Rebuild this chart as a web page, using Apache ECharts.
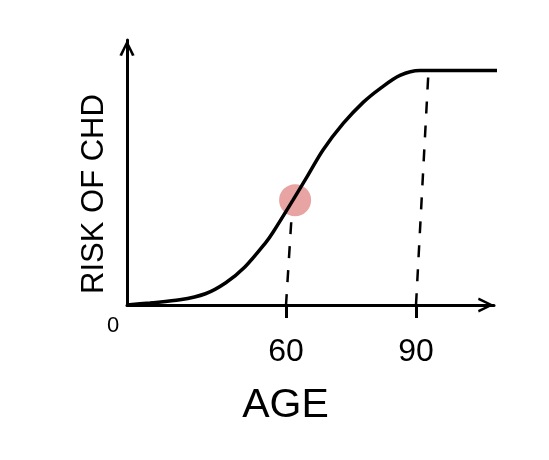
<!DOCTYPE html>
<html>
<head>
<meta charset="utf-8">
<script src="https://cdn.jsdelivr.net/npm/echarts@6/dist/echarts.min.js"></script>
<style>html,body{margin:0;padding:0;background:#fff}#c{width:549px;height:460px}</style>
</head>
<body>
<div id="c"></div>
<script>
// Curve (x axis is age, y axis is relative risk 0..1)
const ages  = [23.3, 28.6, 35.5, 41.4, 46.1, 50.5, 55.4, 57.0, 61.6, 64.8, 68.5, 73.2, 77.8, 81.7, 86.3, 90.9, 95.5, 108.7];
const risks = [0, 0.009, 0.022, 0.048, 0.095, 0.162, 0.268, 0.31, 0.447, 0.545, 0.66, 0.774, 0.864, 0.923, 0.979, 1.0, 1.0, 1.0];
// Highlighted point
const markAge = [62.1];
const markRisk = [0.447];
// Dashed guide lines (top, bottom)
const guide60Ages = [61.2, 60];
const guide60Risks = [0.353, 0];
const guide90Ages = [92.8, 90];
const guide90Risks = [0.97, 0];
// Tick labels
const tickValues = [60, 90];
const originLabel = '0';
const xName = 'AGE';
const yName = 'RISK OF CHD';

const zip = (a, b) => a.map((v, i) => [v, b[i]]);
const chevron = 'path://M0,20 L10,0 L20,20 L16.5,21 L10,7 L3.5,21 Z';
const font = '"Liberation Sans", "DejaVu Sans", sans-serif';

const chart = echarts.init(document.getElementById('c'), null, {renderer: 'canvas'});
chart.setOption({
  animation: false,
  backgroundColor: '#fff',
  grid: {left: 127, right: 55, top: 40, bottom: 155, containLabel: false},
  xAxis: {
    type: 'value', min: 23.3, max: 108,
    splitLine: {show: false},
    axisLine: {show: true, onZero: true, lineStyle: {color: '#000', width: 3},
      symbol: ['none', chevron], symbolSize: [22, 16], symbolOffset: [0, -8]},
    axisTick: {show: true, customValues: tickValues, length: 13, inside: false, lineStyle: {color: '#000', width: 3}},
    axisLabel: {show: true, customValues: tickValues, fontSize: 32, margin: 31, color: '#000', fontFamily: font},
    name: xName, nameLocation: 'middle', nameGap: 80,
    nameTextStyle: {fontSize: 41, color: '#000', fontFamily: font, padding: [0, 50, 0, 0]}
  },
  yAxis: {
    type: 'value', min: 0, max: 1.13,
    splitLine: {show: false},
    axisLine: {show: true, lineStyle: {color: '#000', width: 3},
      symbol: ['none', chevron], symbolSize: [18, 16], symbolOffset: [0, -8]},
    axisTick: {show: false},
    axisLabel: {show: false},
    name: yName, nameLocation: 'middle', nameRotate: 90, nameGap: 17,
    nameTextStyle: {fontSize: 31, color: '#000', fontFamily: font, padding: [0, 43, 0, 0]}
  },
  graphic: [{
    type: 'text', left: 107, top: 315, z: 10,
    style: {text: originLabel, fontSize: 22, fontFamily: font, fill: '#000'}
  }],
  series: [
    {type: 'scatter', data: zip(markAge, markRisk), symbolSize: 32, z: 1,
      itemStyle: {color: '#E8A3A3', opacity: 1}, silent: true},
    {type: 'line', data: zip(guide60Ages, guide60Risks), showSymbol: false, z: 2,
      lineStyle: {color: '#000', width: 2.5, type: [12, 12]}},
    {type: 'line', data: zip(guide90Ages, guide90Risks), showSymbol: false, z: 2,
      lineStyle: {color: '#000', width: 2.5, type: [12, 12]}},
    {type: 'line', data: zip(ages, risks), showSymbol: false, smooth: 0.3, clip: false, z: 3,
      lineStyle: {color: '#000', width: 3.5}}
  ]
});
</script>
</body>
</html>
